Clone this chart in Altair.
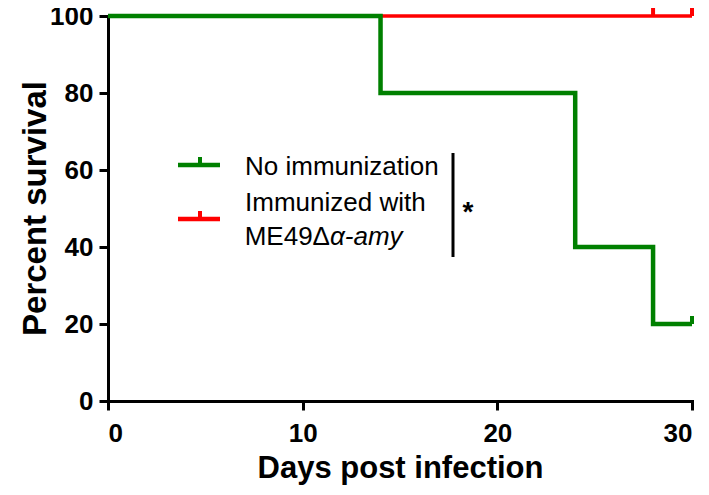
import altair as alt
import pandas as pd

# Survival data (step function)
days_ctrl = [0, 14, 24, 28, 30]
surv_ctrl = [100, 80, 40, 20, 20]
days_imm = [0, 30]
surv_imm = [100, 100]

# censored points
cens_ctrl_days = [30]
cens_ctrl_surv = [20]
cens_imm_days = [28, 30]
cens_imm_surv = [100, 100]

series_names = ["No immunization", "Immunized with"]
legend_line2_a = "ME49Δ"
legend_line2_b = "α-amy"
colors = ["#008000", "#FF0000"]

x_ticks = [0, 10, 20, 30]
y_ticks = [0, 20, 40, 60, 80, 100]

FONT = "Liberation Sans"

ctrl = pd.DataFrame({"day": days_ctrl, "surv": surv_ctrl})
imm = pd.DataFrame({"day": days_imm, "surv": surv_imm})
cc = pd.DataFrame({"day": cens_ctrl_days, "surv": cens_ctrl_surv})
ci = pd.DataFrame({"day": cens_imm_days, "surv": cens_imm_surv})

xs = alt.Scale(domain=[0, 30], nice=False)
ys = alt.Scale(domain=[0, 100], nice=False)

xenc = alt.X("day:Q", scale=xs, axis=alt.Axis(
    values=x_ticks, title="Days post infection", titleFontSize=31,
    titleFontWeight="bold", titleY=67, titleBaseline="middle",
    labelFontSize=26, labelFontWeight="bold", labelPadding=10,
))
yenc = alt.Y("surv:Q", scale=ys, axis=alt.Axis(
    values=y_ticks, title="Percent survival", titleFontSize=33,
    titleFontWeight="bold", titleX=-73, titleY=192, titleAngle=-90,
    titleAlign="center", titleBaseline="middle",
    labelFontSize=26, labelFontWeight="bold", labelPadding=6,
))

line_imm = alt.Chart(imm).mark_line(interpolate="step-after", color=colors[1], strokeWidth=3.5).encode(x=xenc, y=yenc)
line_ctrl = alt.Chart(ctrl).mark_line(interpolate="step-after", color=colors[0], strokeWidth=4.5).encode(x="day:Q", y="surv:Q")
tick_imm = alt.Chart(ci).mark_tick(orient="vertical", color=colors[1], thickness=4, size=8, yOffset=-4, opacity=1).encode(x="day:Q", y="surv:Q")
tick_ctrl = alt.Chart(cc).mark_tick(orient="vertical", color=colors[0], thickness=4, size=8, yOffset=-4, opacity=1).encode(x="day:Q", y="surv:Q")

# legend / annotation (pixel layout)
one = pd.DataFrame({"k": [0]})
leg = []
sym_y = [149, 203]
txt_y = [151, 187]
for i in range(2):
    leg.append(alt.Chart(one).mark_rule(color=colors[i], strokeWidth=4.5).encode(
        x=alt.value(70), x2=alt.value(112), y=alt.value(sym_y[i])))
    leg.append(alt.Chart(one).mark_rule(color=colors[i], strokeWidth=4).encode(
        x=alt.value(92), y=alt.value(sym_y[i] - 8), y2=alt.value(sym_y[i])))
    leg.append(alt.Chart(one).mark_text(text=series_names[i], font=FONT, fontSize=26, align="left", baseline="middle").encode(
        x=alt.value(137), y=alt.value(txt_y[i])))
leg.append(alt.Chart(one).mark_text(text=legend_line2_a, font=FONT, fontSize=26, align="right", baseline="middle").encode(
    x=alt.value(222), y=alt.value(221)))
leg.append(alt.Chart(one).mark_text(text=legend_line2_b, font=FONT, fontSize=26, fontStyle="italic", align="left", baseline="middle").encode(
    x=alt.value(222), y=alt.value(221)))
leg.append(alt.Chart(one).mark_rule(color="black", strokeWidth=3).encode(
    x=alt.value(345), y=alt.value(137), y2=alt.value(241)))
leg.append(alt.Chart(one).mark_text(text="*", font=FONT, fontSize=28, fontWeight="bold", align="center", baseline="middle").encode(
    x=alt.value(360), y=alt.value(197)))

chart = alt.layer(line_imm, line_ctrl, tick_imm, tick_ctrl, *leg).properties(
    width=584, height=385,
    autosize=alt.AutoSizeParams(type="none"),
    padding={"left": 100, "top": 8, "right": 9, "bottom": 86},
).configure_view(stroke=None).configure_axis(
    grid=False, domainColor="black", domainWidth=3, tickColor="black",
    tickWidth=3, tickSize=9, labelColor="black", titleColor="black",
    labelFont=FONT, titleFont=FONT, domainCap="square",
)

chart.save("out.html", embed_options={"renderer": "svg", "actions": False})
